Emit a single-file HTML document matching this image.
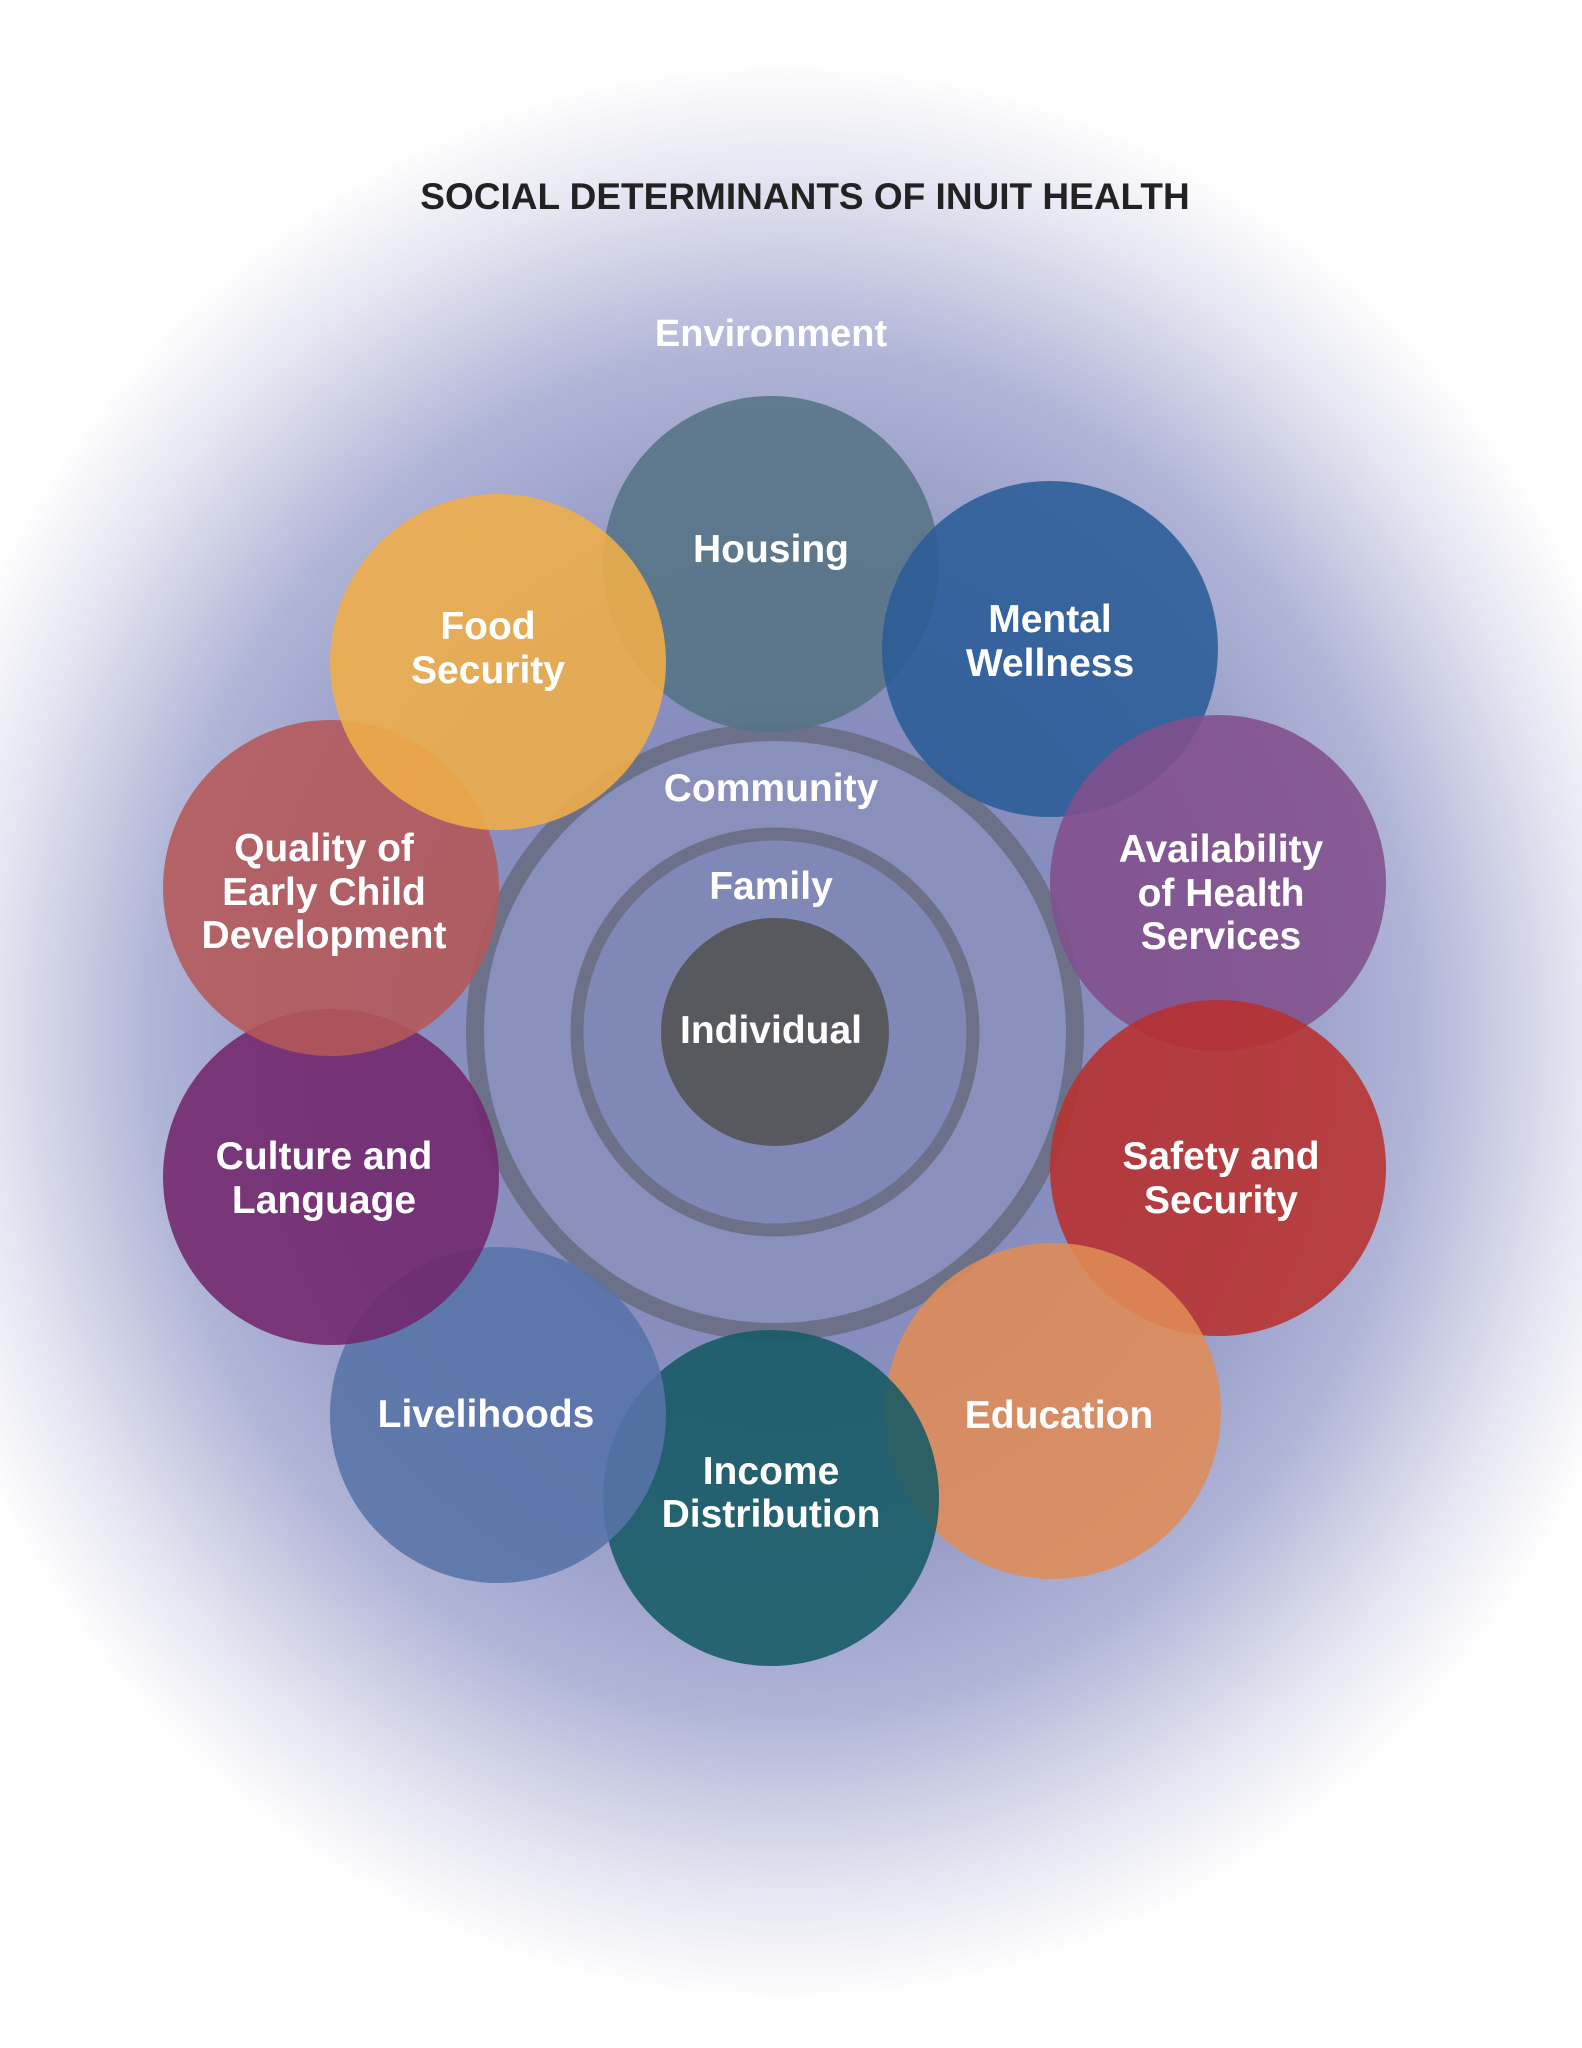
<!DOCTYPE html>
<html><head><meta charset="utf-8"><style>
html,body{margin:0;padding:0;background:#fff}
svg{display:block}
text{font-family:"Liberation Sans",sans-serif;font-weight:bold;fill:#fff;text-anchor:middle}
</style></head><body>
<svg width="1582" height="2048" viewBox="0 0 1582 2048" xmlns="http://www.w3.org/2000/svg">
<defs>
<radialGradient id="bg" cx="785" cy="1032" r="900" gradientUnits="userSpaceOnUse" gradientTransform="translate(785 1032) scale(1 1.08) translate(-785 -1032)">
<stop offset="0" stop-color="#7f86b8"/>
<stop offset="0.45" stop-color="#8a90c0"/>
<stop offset="0.7" stop-color="#b0b4d6"/>
<stop offset="0.88" stop-color="#e4e5f1"/>
<stop offset="1" stop-color="#ffffff"/>
</radialGradient>
</defs>
<rect width="1582" height="2048" fill="#fff"/>
<rect width="1582" height="2048" fill="url(#bg)"/>
<text x="805" y="209" style="fill:#222;font-size:37px">SOCIAL DETERMINANTS OF INUIT HEALTH</text>
<text x="771" y="346" style="font-size:38px">Environment</text>

<circle cx="775" cy="1032" r="300" fill="#8890bb" stroke="#6c7088" stroke-width="18"/>
<circle cx="775" cy="1032" r="198" fill="#8088b7" stroke="#6c7088" stroke-width="13"/>
<circle cx="775" cy="1032" r="114" fill="#58595e"/>

<g fill-opacity="0.88">
<circle cx="771" cy="564" r="168" fill="#557384"/>
<circle cx="1050" cy="649" r="168" fill="#2a5c97"/>
<circle cx="1218" cy="883" r="168" fill="#824e8c"/>
<circle cx="1218" cy="1168" r="168" fill="#b8302e"/>
<circle cx="1053" cy="1411" r="168" fill="#e08c56"/>
<circle cx="771" cy="1498" r="168" fill="#155a64"/>
<circle cx="498" cy="1415" r="168" fill="#5673a8"/>
<circle cx="331" cy="1177" r="168" fill="#72266c"/>
<circle cx="331" cy="888" r="168" fill="#b45858"/>
<circle cx="498" cy="662" r="168" fill="#f0ae48"/>
</g>

<g style="font-size:39px">
<text x="771" y="562">Housing</text>
<text x="1050" y="632">Mental</text><text x="1050" y="676">Wellness</text>
<text x="1221" y="862">Availability</text><text x="1221" y="906">of Health</text><text x="1221" y="949">Services</text>
<text x="1221" y="1169">Safety and</text><text x="1221" y="1213">Security</text>
<text x="1059" y="1428">Education</text>
<text x="771" y="1484">Income</text><text x="771" y="1527">Distribution</text>
<text x="486" y="1427">Livelihoods</text>
<text x="324" y="1169">Culture and</text><text x="324" y="1213">Language</text>
<text x="324" y="861">Quality of</text><text x="324" y="905">Early Child</text><text x="324" y="948">Development</text>
<text x="488" y="639">Food</text><text x="488" y="683">Security</text>
<text x="771" y="801">Community</text>
<text x="771" y="899">Family</text>
<text x="771" y="1043">Individual</text>
</g>
</svg>
</body></html>
